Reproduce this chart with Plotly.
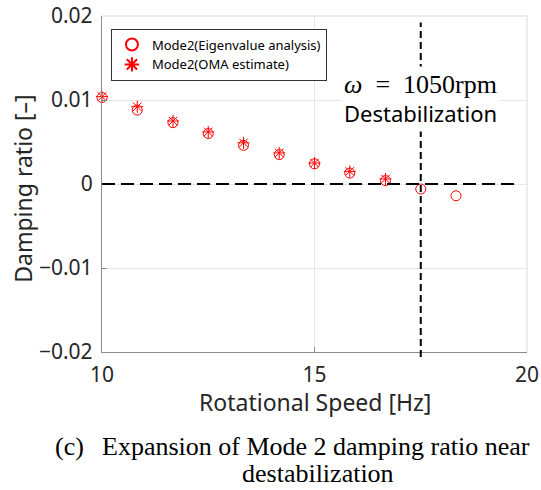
import plotly.graph_objects as go

# ---- data ----
speed_hz = [10.0, 10.83, 11.67, 12.5, 13.33, 14.17, 15.0, 15.83, 16.67, 17.5, 18.33]
eig_damping = [0.0103, 0.0088, 0.0073, 0.0060, 0.0046, 0.0035, 0.0024, 0.0013, 0.0004, -0.0006, -0.0014]
oma_speed_hz = [10.0, 10.83, 11.67, 12.5, 13.33, 14.17, 15.0, 15.83, 16.67]
oma_damping = [0.0104, 0.0092, 0.0075, 0.0062, 0.0049, 0.0037, 0.0025, 0.0015, 0.0006]

x_ticks = [10, 15, 20]
y_ticks = [-0.02, -0.01, 0, 0.01, 0.02]
x_range = [10, 20]
y_range = [-0.02, 0.02]
destab_hz = 17.5

SANS = "Noto Sans"
SERIF = "Liberation Serif"
TXT = "#262626"
RED = "#ff0000"

fig = go.Figure()
fig.add_trace(go.Scatter(
    x=speed_hz, y=eig_damping, mode="markers", name="Mode2(Eigenvalue analysis)",
    marker=dict(symbol="circle-open", size=10, color=RED, line=dict(width=1, color=RED)),
    cliponaxis=False,
))
fig.add_trace(go.Scatter(
    x=oma_speed_hz, y=oma_damping, mode="markers", name="Mode2(OMA estimate)",
    marker=dict(symbol="asterisk-open", size=10, color=RED, line=dict(width=1, color=RED)),
    cliponaxis=False,
))

# reference lines
fig.add_shape(type="line", xref="x", yref="y", x0=x_range[0], x1=19.75, y0=0, y1=0,
              line=dict(color="black", width=2, dash="13px,6px"))
xp = (destab_hz - x_range[0]) / (x_range[1] - x_range[0])
fig.add_shape(type="line", xref="paper", yref="paper", x0=xp, x1=xp, y0=-0.015, y1=0.981,
              line=dict(color="black", width=2, dash="7px,4px"))
# light top/right frame
fig.add_shape(type="line", xref="paper", yref="paper", x0=0, x1=1, y0=1, y1=1,
              line=dict(color="#d9d9d9", width=1))
fig.add_shape(type="line", xref="paper", yref="paper", x0=1, x1=1, y0=0, y1=1,
              line=dict(color="#d9d9d9", width=1))

# annotation box
fig.add_annotation(
    x=destab_hz, y=0.0101, xref="x", yref="y", xanchor="center", yanchor="middle",
    text=(f"<span style='font-family:{SERIF};font-size:26px'><i>ω</i>&nbsp;&nbsp;=&nbsp;&nbsp;1050rpm</span>"
          "<br>Destabilization"),
    showarrow=False, bgcolor="white", borderpad=3,
    font=dict(family=SANS, size=22, color="black"),
)

# axis titles
fig.add_annotation(x=0.5, y=-0.148, xref="paper", yref="paper", xanchor="center", yanchor="middle",
                   text="Rotational Speed [Hz]", showarrow=False,
                   font=dict(family=SANS, size=23, color=TXT))
fig.add_annotation(x=-0.1866, y=0.485, xref="paper", yref="paper", xanchor="center", yanchor="middle",
                   text="Damping ratio [–]", showarrow=False, textangle=-90,
                   font=dict(family=SANS, size=23, color=TXT))

# caption
fig.add_annotation(x=-0.116, y=-0.281, xref="paper", yref="paper", xanchor="left", yanchor="middle",
                   text="(c)", showarrow=False, font=dict(family=SERIF, size=26, color="black"))
fig.add_annotation(x=-0.0047, y=-0.281, xref="paper", yref="paper", xanchor="left", yanchor="middle",
                   text="Expansion of Mode 2 damping ratio near", showarrow=False,
                   font=dict(family=SERIF, size=26, color="black"))
fig.add_annotation(x=0.508, y=-0.363, xref="paper", yref="paper", xanchor="center", yanchor="middle",
                   text="destabilization", showarrow=False,
                   font=dict(family=SERIF, size=26, color="black"))

axis_common = dict(
    showgrid=True, gridcolor="#e6e6e6", gridwidth=1, zeroline=False,
    showline=True, linecolor="#8c8c8c", linewidth=1.3,
    ticks="inside", ticklen=5, tickcolor="#8c8c8c", tickwidth=1,
    tickfont=dict(family=SANS, size=21, color=TXT),
    automargin=False,
)
fig.update_xaxes(range=x_range, tickvals=x_ticks, ticktext=[str(v) for v in x_ticks],
                 ticklabelstandoff=4, **axis_common)
fig.update_yaxes(range=y_range, tickvals=y_ticks,
                 ticktext=["−0.02", "−0.01", "0", "0.01", "0.02"],
                 ticklabelstandoff=4, **axis_common)

fig.update_layout(
    width=541, height=490,
    margin=dict(l=102, r=14, t=16, b=138, autoexpand=False),
    paper_bgcolor="white", plot_bgcolor="white",
    showlegend=True,
    legend=dict(
        x=0.021, y=0.9626, xanchor="left", yanchor="top",
        bgcolor="white", bordercolor="#333333", borderwidth=1,
        font=dict(family=SANS, size=13, color="black"),
        tracegroupgap=0, itemsizing="constant",
    ),
)

fig.write_html("out.html", config={"displayModeBar": False},
               post_script="document.body.style.margin='0';")
